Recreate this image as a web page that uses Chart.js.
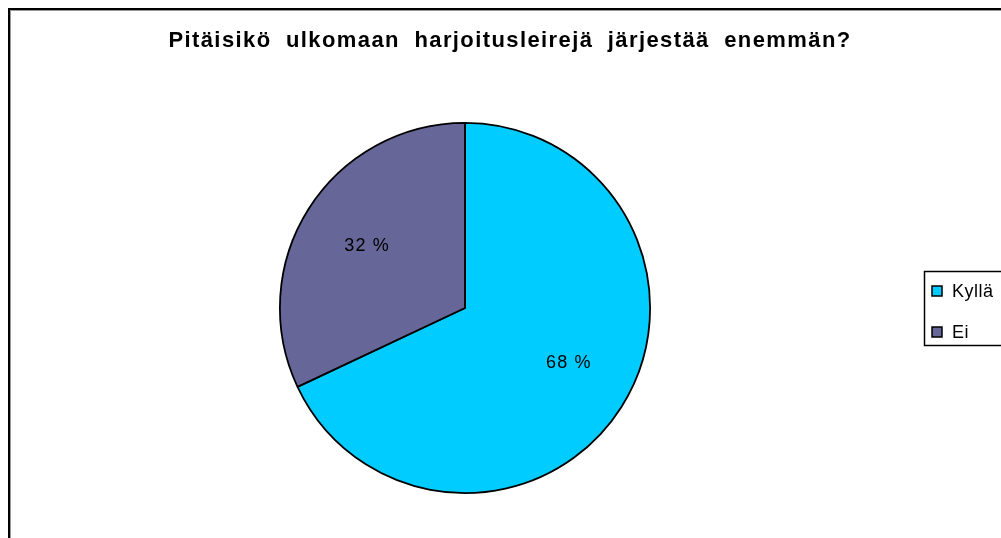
<!DOCTYPE html>
<html>
<head>
<meta charset="utf-8">
<script src="https://cdn.jsdelivr.net/npm/chart.js@4"></script>
<style>
  html, body { margin: 0; padding: 0; background: #fff; overflow: hidden; }
  #frame { position: absolute; left: 8px; top: 8px; width: 1100px; height: 600px; border: 2px solid #000; box-shadow: 1px 1px 0 #999 inset; }
  #pieChart { position: absolute; left: 0; top: 0; }
</style>
</head>
<body>
<div id="frame"></div>
<canvas id="pieChart" width="1001" height="538"></canvas>
<script>
const titleText = "Pitäisikö ulkomaan harjoitusleirejä järjestää enemmän?";
const labels = ["Kyllä", "Ei"];
const values = [68, 32];
const colors = ["#00CCFF", "#666699"];

// draws title, percentage labels and the boxed legend
const extras = {
  id: "extras",
  afterDraw(chart) {
    const ctx = chart.ctx;
    ctx.save();
    ctx.fillStyle = "#000";
    ctx.textAlign = "center";
    ctx.textBaseline = "middle";
    ctx.font = "bold 22px 'Liberation Sans', Arial, sans-serif";
    ctx.letterSpacing = "1.4px";
    ctx.wordSpacing = "7px";
    ctx.fillText(titleText, 510, 41);
    ctx.wordSpacing = "0px";

    ctx.font = "18px 'Liberation Sans', Arial, sans-serif";
    ctx.letterSpacing = "1.2px";
    const meta = chart.getDatasetMeta(0);
    meta.data.forEach((arc, i) => {
      const mid = (arc.startAngle + arc.endAngle) / 2 - 0.04;
      const r = arc.outerRadius * 0.63;
      ctx.fillText(values[i] + " %", arc.x + Math.cos(mid) * r + 3, arc.y + Math.sin(mid) * r - 3);
    });

    // legend
    ctx.lineWidth = 1.5;
    ctx.strokeStyle = "#000";
    ctx.strokeRect(924.5, 271.5, 120, 74);
    ctx.textAlign = "left";
    ctx.letterSpacing = "0.5px";
    labels.forEach((lab, i) => {
      const y = 291 + i * 41;
      ctx.fillStyle = colors[i];
      ctx.fillRect(932, y - 5, 10, 10);
      ctx.lineWidth = 1.5;
      ctx.strokeRect(932, y - 5, 10, 10);
      ctx.fillStyle = "#000";
      ctx.fillText(lab, 952, y + 1);
    });
    ctx.restore();
  }
};

new Chart(document.getElementById("pieChart"), {
  type: "pie",
  data: {
    labels: labels,
    datasets: [{
      data: values,
      backgroundColor: colors,
      borderColor: "#000",
      borderWidth: 1.8,
    }],
  },
  options: {
    responsive: false,
    animation: false,
    layout: { padding: { left: 279, right: 350, top: 122, bottom: 44 } },
    plugins: {
      legend: { display: false },
      title: { display: false },
      tooltip: { enabled: false },
    },
  },
  plugins: [extras],
});
</script>
</body>
</html>
